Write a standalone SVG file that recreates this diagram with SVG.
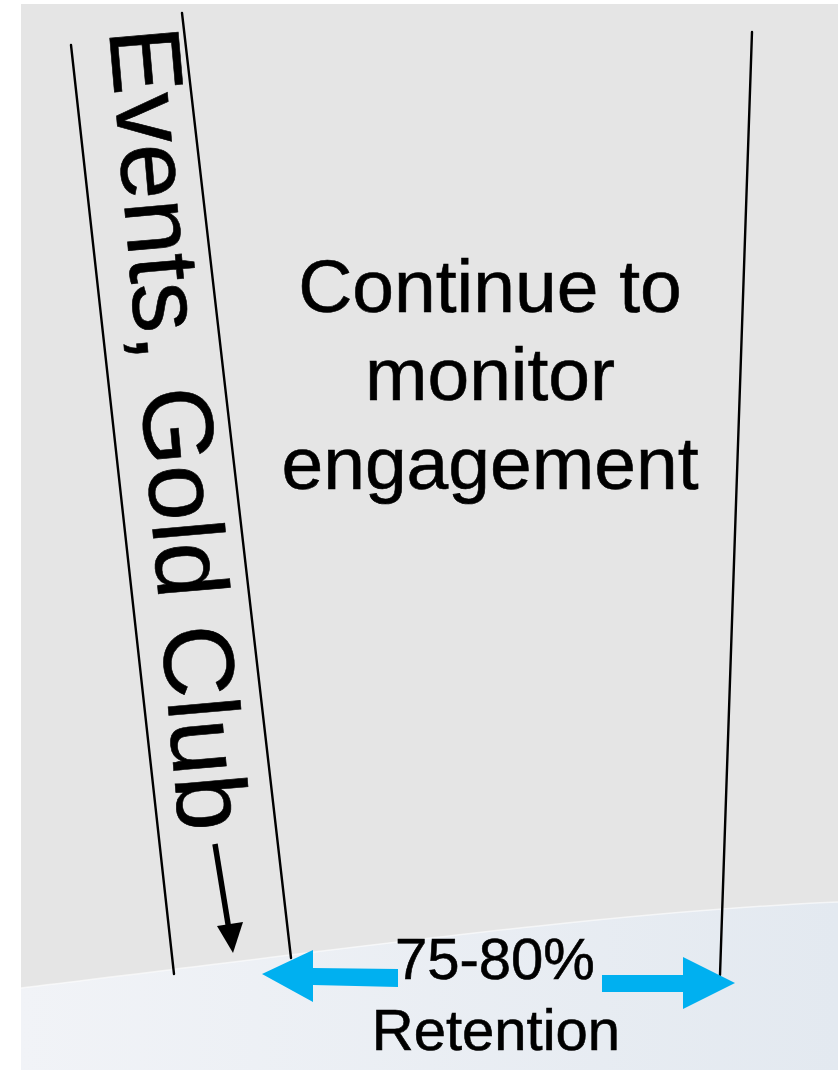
<svg xmlns="http://www.w3.org/2000/svg" width="838" height="1071" viewBox="0 0 838 1071">
  <defs>
    <linearGradient id="floorFill" x1="0" y1="0" x2="1" y2="0">
      <stop offset="0" stop-color="#f1f3f7"/>
      <stop offset="1" stop-color="#e3e9f0"/>
    </linearGradient>
    <style>
      .txt { font-family: "Liberation Sans", Arial, sans-serif; fill: #000; stroke: #000; stroke-width: 0.6; }
      .rule { stroke: #000; stroke-width: 2.4; fill: none; stroke-linecap: round; }
      .blue { fill: #00b0f0; }
    </style>
  </defs>

  <!-- backdrop -->
  <rect x="0" y="0" width="838" height="1071" fill="#ffffff"/>
  <rect x="21" y="4" width="817" height="1066" fill="#e5e5e5"/>
  <path d="M21,988 C300,955 600,912 838,902 L838,1070 L21,1070 Z" fill="url(#floorFill)"/>
  <path d="M21,988 C300,955 600,912 838,902" fill="none" stroke="#ffffff" stroke-opacity="0.6" stroke-width="1.5"/>

  <!-- guide lines -->
  <g id="connectors">
    <line class="rule" x1="71" y1="45" x2="174" y2="974"/>
    <line class="rule" x1="182" y1="13" x2="291" y2="958"/>
    <line class="rule" x1="752" y1="32" x2="720" y2="975"/>
    <!-- down arrow after the band label -->
    <line x1="215" y1="844" x2="229" y2="930" stroke="#000" stroke-width="5.5"/>
    <polygon points="217,926 243,922 233,953" fill="#000"/>
    <!-- retention span arrows -->
    <polygon class="blue" points="262,974 313,950 313,968 398,969 398,987 313,985 313,1002"/>
    <polygon class="blue" points="602,975 683,975 683,957 735,983 683,1009 683,992 602,992"/>
  </g>

  <g id="band-label">
    <text class="txt" x="0" y="0" font-size="100" transform="translate(109,30) rotate(85)">Events, Gold Club</text>
  </g>

  <g id="monitor-note">
    <text class="txt" font-size="75" text-anchor="middle"><tspan x="490" y="312">Continue to</tspan><tspan x="490" y="400">monitor</tspan><tspan x="490" y="489">engagement</tspan></text>
  </g>

  <g id="retention-label">
    <text class="txt" font-size="58" text-anchor="middle"><tspan x="495" y="979">75-80%</tspan><tspan x="496" y="1050">Retention</tspan></text>
  </g>
</svg>
